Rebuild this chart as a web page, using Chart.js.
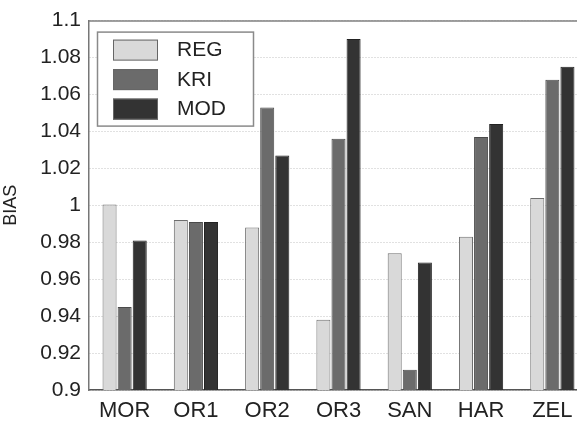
<!DOCTYPE html>
<html lang="en">
<head>
    <meta charset="UTF-8">
    <title>BIAS</title>
    <script src="https://cdn.jsdelivr.net/npm/chart.js@4.4.0/dist/chart.umd.min.js"></script>
    <style>
        body { margin: 0; overflow: hidden; background: #fff; }
    </style>
</head>
<body>
    <canvas id="chart" width="588" height="421"></canvas>
    <script>
        const sites = ['MOR', 'OR1', 'OR2', 'OR3', 'SAN', 'HAR', 'ZEL'];
        const reg = [1.0005, 0.992, 0.988, 0.938, 0.974, 0.983, 1.004];
        const kri = [0.945, 0.991, 1.053, 1.036, 0.911, 1.037, 1.068];
        const mod = [0.981, 0.991, 1.027, 1.090, 0.969, 1.044, 1.075];
        const yTicks = [0.9, 0.92, 0.94, 0.96, 0.98, 1, 1.02, 1.04, 1.06, 1.08, 1.1];

        const FONT = '"Liberation Sans", Arial, sans-serif';

        // draws the boxed legend inside the axes plus the top frame line
        const boxPlugin = {
            id: 'boxPlugin',
            afterDraw(chart) {
                const ctx = chart.ctx;
                const a = chart.chartArea;
                ctx.save();
                ctx.strokeStyle = '#808080';
                ctx.lineWidth = 1.5;
                ctx.beginPath();
                ctx.moveTo(a.left, a.top + 0.5);
                ctx.lineTo(a.right, a.top + 0.5);
                ctx.stroke();

                const lx = a.left + 8, ly = a.top + 11, lw = 156, lh = 94;
                ctx.fillStyle = '#fff';
                ctx.fillRect(lx, ly, lw, lh);
                ctx.strokeStyle = '#8a8a8a';
                ctx.lineWidth = 1.5;
                ctx.strokeRect(lx + 0.5, ly + 0.5, lw, lh);
                ctx.font = '21px ' + FONT;
                ctx.textBaseline = 'middle';
                chart.data.datasets.forEach((ds, i) => {
                    const y = ly + 18 + i * 29.5;
                    ctx.fillStyle = ds.backgroundColor;
                    ctx.fillRect(lx + 16, y - 10, 45, 21);
                    ctx.strokeStyle = '#666';
                    ctx.lineWidth = 1;
                    ctx.strokeRect(lx + 16.5, y - 9.5, 44, 20);
                    ctx.fillStyle = '#222';
                    ctx.fillText(ds.label, lx + 80, y + 1);
                });
                ctx.restore();
            }
        };

        const ctx = document.getElementById('chart').getContext('2d');
        new Chart(ctx, {
            type: 'bar',
            data: {
                labels: sites,
                datasets: [
                    { label: 'REG', data: reg, backgroundColor: '#d9d9d9', borderColor: '#6e6e6e', borderWidth: 1 },
                    { label: 'KRI', data: kri, backgroundColor: '#6b6b6b', borderColor: '#4a4a4a', borderWidth: 1 },
                    { label: 'MOD', data: mod, backgroundColor: '#333333', borderColor: '#222', borderWidth: 1 }
                ]
            },
            options: {
                responsive: false,
                animation: false,
                categoryPercentage: 0.635,
                barPercentage: 0.93,
                layout: { padding: { top: 20, right: 0, bottom: 0, left: 0 } },
                plugins: {
                    legend: { display: false },
                    tooltip: { enabled: false }
                },
                scales: {
                    x: {
                        grid: { display: false, drawTicks: false },
                        border: { color: '#555', width: 1.5 },
                        ticks: {
                            color: '#222',
                            padding: 8,
                            maxRotation: 0,
                            font: { family: FONT, size: 22 }
                        },
                        afterFit: s => { s.height = 31; }
                    },
                    y: {
                        min: 0.9,
                        max: 1.1,
                        afterBuildTicks: s => { s.ticks = yTicks.map(v => ({ value: v })); },
                        grid: { color: '#c2c2c2', drawTicks: false, lineWidth: 1 },
                        border: { color: '#777', width: 1.5, dash: [1, 2] },
                        ticks: {
                            color: '#222',
                            padding: 8,
                            font: { family: FONT, size: 21 },
                            callback: v => String(parseFloat(v.toFixed(2)))
                        },
                        title: {
                            display: true,
                            text: 'BIAS',
                            color: '#222',
                            padding: { top: 0, bottom: 0 },
                            font: { family: FONT, size: 18 }
                        },
                        afterFit: s => { s.width = 89; }
                    }
                }
            },
            plugins: [boxPlugin]
        });
    </script>
</body>
</html>
